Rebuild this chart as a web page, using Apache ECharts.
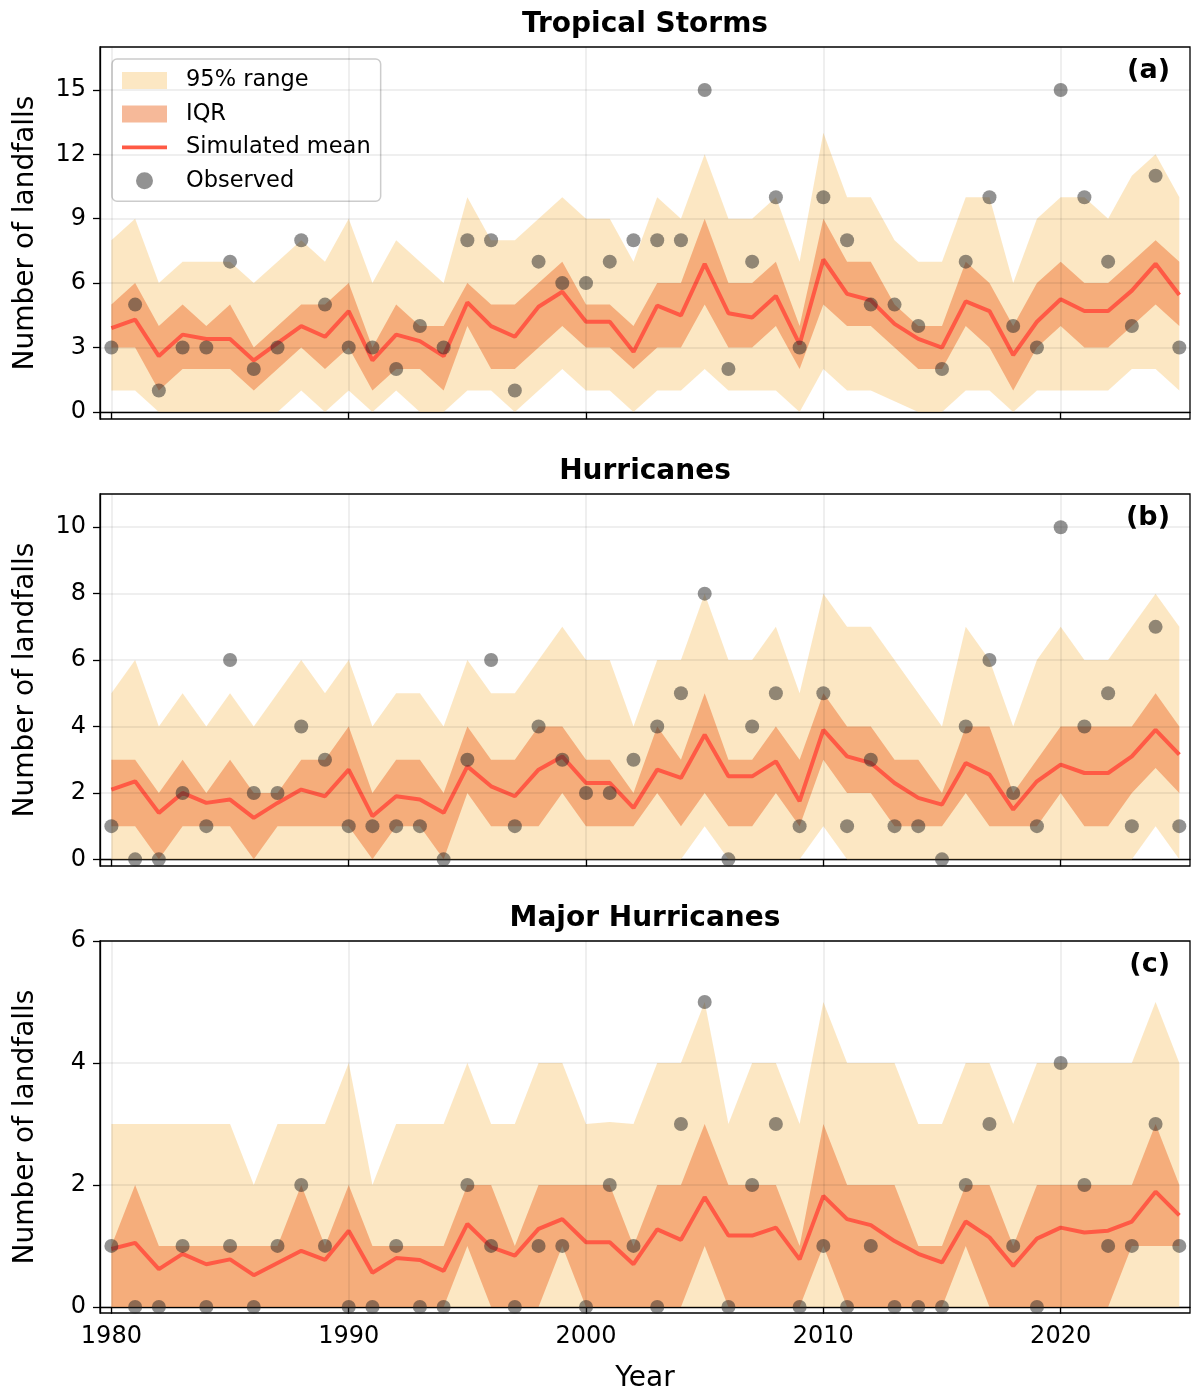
<!DOCTYPE html>
<html>
<head>
<meta charset="utf-8">
<script src="https://cdn.jsdelivr.net/npm/echarts@6.0.0/dist/echarts.min.js"></script>
<style>
html,body{margin:0;padding:0;background:#fff;}
#chart{width:1192px;height:1390px;}
</style>
</head>
<body>
<div id="chart"></div>
<script>
// ---------- DATA ----------
const years = [1980,1981,1982,1983,1984,1985,1986,1987,1988,1989,1990,1991,1992,1993,1994,1995,1996,1997,1998,1999,2000,2001,2002,2003,2004,2005,2006,2007,2008,2009,2010,2011,2012,2013,2014,2015,2016,2017,2018,2019,2020,2021,2022,2023,2024,2025];
const xTicks = [1980,1990,2000,2010,2020];

// (a) Tropical Storms
const tsTicks = [0,3,6,9,12,15];
const tsRangeHigh = [8,9,6,7,7,7,6,7,8,7,9,6,8,7,6,10,8,8,9,10,9,9,7,10,9,12,9,9,10,7,13,10,10,8,7,7,10,10,6,9,10,10,9,11,12,10];
const tsRangeLow  = [1,1,0,0,0,0,0,0,1,0,1,0,1,0,0,1,1,0,1,2,1,1,0,1,1,2,1,1,1,0,2,1,1,0.5,0,0,1,1,0,1,1,1,1,2,2,1];
const tsIqrHigh   = [5,6,4,5,4,5,3,4,5,5,6,3,5,4,4,6,5,5,6,7,5,5,4,6,6,9,6,6,7,4,9,7,7,5,4,4,7,6,4,6,7,6,6,7,8,7];
const tsIqrLow    = [3,3,1,2,2,2,1,2,3,2,3,1,2,2,1,4,2,2,3,4,3,3,2,3,3,5,3,3,4,2,5,4,4,3,2,2,4,3,1,3,4,3,3,4,5,4];
const tsMean      = [3.9,4.3,2.6,3.6,3.4,3.4,2.4,3.2,4.0,3.5,4.7,2.4,3.6,3.3,2.6,5.1,4.0,3.5,4.9,5.6,4.2,4.2,2.8,4.95,4.5,6.9,4.6,4.4,5.4,3.15,7.1,5.5,5.2,4.1,3.4,3.0,5.15,4.7,2.65,4.2,5.25,4.7,4.7,5.65,6.9,5.45];
const tsObserved  = [3,5,1,3,3,7,2,3,8,5,3,3,2,4,3,8,8,1,7,6,6,7,8,8,8,15,2,7,10,3,10,8,5,5,4,2,7,10,4,3,15,10,7,4,11,3];

// (b) Hurricanes
const huTicks = [0,2,4,6,8,10];
const huRangeHigh = [5,6,4,5,4,5,4,5,6,5,6,4,5,5,4,6,5,5,6,7,6,6,4,6,6,8,6,6,7,5,8,7,7,6,5,4,7,6,4,6,7,6,6,7,8,7];
const huRangeLow  = [0,0,0,0,0,0,0,0,0,0,0,0,0,0,0,0,0,0,0,0,0,0,0,0,0,1,0,0,0,0,1,0,0,0,0,0,0,0,0,0,0,0,0,0,1,0];
const huIqrHigh   = [3,3,2,3,2,3,2,2,3,3,4,2,3,3,2,4,3,3,4,4,3,3,2,4,3,5,3,3,4,3,5,4,4,3,3,2,4,4,2,3,4,4,4,4,5,4];
const huIqrLow    = [1,1,0,1,1,1,0,1,1,1,1,0,1,1,0,2,1,1,1,2,1,1,1,2,1,2,1,1,2,1,3,2,2,1,1,1,2,1,1,1,2,1,1,2,2.75,2];
const huMean      = [2.1,2.35,1.4,2.0,1.7,1.8,1.25,1.7,2.1,1.9,2.7,1.3,1.9,1.8,1.4,2.8,2.2,1.9,2.7,3.1,2.3,2.3,1.55,2.7,2.45,3.75,2.5,2.5,2.95,1.75,3.9,3.1,2.9,2.3,1.85,1.65,2.9,2.55,1.5,2.35,2.85,2.6,2.6,3.1,3.9,3.15];
const huObserved  = [1,0,0,2,1,6,2,2,4,3,1,1,1,1,0,3,6,1,4,3,2,2,3,4,5,8,0,4,5,1,5,1,3,1,1,0,4,6,2,1,10,4,5,1,7,1];

// (c) Major Hurricanes
const mhTicks = [0,2,4,6];
const mhRangeHigh = [3,3,3,3,3,3,2,3,3,3,4,2,3,3,3,4,3,3,4,4,3,3.03,3,4,4,5,3,4,4,3,5,4,4,4,3,3,4,4,3,4,4,4,4,4,5,4];
const mhRangeLow  = [0,0,0,0,0,0,0,0,0,0,0,0,0,0,0,0,0,0,0,0,0,0,0,0,0,0,0,0,0,0,0,0,0,0,0,0,0,0,0,0,0,0,0,0,0,0];
const mhIqrHigh   = [1,2,1,1,1,1,1,1,2,1,2,1,1,1,1,2,2,1,2,2,2,2,1,2,2,3,2,2,2,1,3,2,2,2,1,1,2,2,1,2,2,2,2,2,3,2];
const mhIqrLow    = [0,0,0,0,0,0,0,0,0,0,0,0,0,0,0,1,0,0,0,1,0,0,0,0,0,1,0,0,0,0,1,0,0,0,0,0,1,0,0,0,0,0,0,1,1,1];
const mhMean      = [0.95,1.05,0.62,0.87,0.7,0.78,0.52,0.72,0.92,0.77,1.25,0.56,0.8,0.77,0.59,1.36,0.98,0.84,1.28,1.44,1.06,1.06,0.7,1.27,1.1,1.8,1.17,1.17,1.3,0.78,1.82,1.44,1.34,1.08,0.87,0.73,1.4,1.14,0.67,1.12,1.3,1.22,1.25,1.4,1.89,1.5];
const mhObserved  = [1,0,0,1,0,1,0,1,2,1,0,0,1,0,0,2,1,0,1,1,0,2,1,0,3,5,0,2,3,0,1,0,1,0,0,0,2,3,1,0,4,2,1,1,3,1];

// ---------- STYLE / LAYOUT ----------
const FONT = 'DejaVu Sans';
const C_RANGE = 'rgba(249,208,135,0.5)';
const C_IQR = 'rgba(238,115,52,0.5)';
const C_MEAN = '#FF5A45';
const C_OBS = 'rgba(40,40,40,0.63)';
const C_GRID = 'rgba(0,0,0,0.085)';

const panels = [
  {title:'Tropical Storms', tag:'(a)', top:47, yMin:-0.33, yMax:17, ticks:tsTicks,
   hi95:tsRangeHigh, lo95:tsRangeLow, hiIqr:tsIqrHigh, loIqr:tsIqrLow, mean:tsMean, obs:tsObserved},
  {title:'Hurricanes', tag:'(b)', top:494, yMin:-0.2, yMax:11, ticks:huTicks,
   hi95:huRangeHigh, lo95:huRangeLow, hiIqr:huIqrHigh, loIqr:huIqrLow, mean:huMean, obs:huObserved},
  {title:'Major Hurricanes', tag:'(c)', top:941, yMin:-0.1, yMax:6, ticks:mhTicks,
   hi95:mhRangeHigh, lo95:mhRangeLow, hiIqr:mhIqrHigh, loIqr:mhIqrLow, mean:mhMean, obs:mhObserved}
];
const PANEL_H = 372;

const pairs = arr => years.map((y,k)=>[y, arr[k]]);

// band drawn as one polygon through the axis scales (api.coord)
function bandSeries(name, i, lo, hi, color, z) {
  return {
    type:'custom', name:name, xAxisIndex:i, yAxisIndex:i, z:z, silent:true, animation:false,
    itemStyle:{color:color},
    data: years.map((y,k)=>[y, lo[k], hi[k]]),
    encode:{x:0, y:[1,2]},
    renderItem: function(params, api) {
      if (params.dataIndex !== 0) return null;
      const top = years.map((y,k)=>api.coord([y, hi[k]]));
      const bot = years.map((y,k)=>api.coord([y, lo[k]])).reverse();
      return {type:'polygon', shape:{points: top.concat(bot)}, style:{fill:color, stroke:null}};
    }
  };
}

const grids = [], xAxes = [], yAxes = [], series = [], titles = [];

panels.forEach((p, i) => {
  const last = i === panels.length - 1;
  grids.push({left:100, width:1090, top:p.top, height:PANEL_H, show:true,
    containLabel:false, outerBoundsMode:'none',
    borderColor:'#000', borderWidth:1.3, backgroundColor:'transparent'});
  xAxes.push({
    type:'value', gridIndex:i, min:1979.52, max:2025.45,
    axisLine:{show:true, lineStyle:{color:'#000', width:1.3}},
    axisTick:{show:true, customValues:xTicks, length:7, lineStyle:{color:'#000', width:1.3}},
    axisLabel:{show:last, customValues:xTicks, fontSize:24, color:'#000', fontFamily:FONT, margin:12,
      formatter: v => String(v)},
    splitLine:{show:false},
    name: last ? 'Year' : '', nameLocation:'middle', nameGap:52, nameMoveOverlap:false,
    nameTextStyle:{fontSize:28, color:'#000', fontFamily:FONT}
  });
  yAxes.push({
    type:'value', gridIndex:i, min:p.yMin, max:p.yMax,
    axisLine:{show:true, lineStyle:{color:'#000', width:1.3}},
    axisTick:{show:true, customValues:p.ticks, length:7, lineStyle:{color:'#000', width:1.3}},
    axisLabel:{customValues:p.ticks, fontSize:24, color:'#000', fontFamily:FONT, margin:14,
      formatter: v => String(v)},
    splitLine:{show:false},
    name:'Number of landfalls', nameLocation:'middle', nameGap:60, nameMoveOverlap:false,
    nameTextStyle:{fontSize:28, color:'#000', fontFamily:FONT}
  });
  titles.push({text:p.title, left:645, top:p.top-38, textAlign:'center', padding:0,
    textStyle:{fontSize:28, fontWeight:'bold', color:'#000', fontFamily:FONT, lineHeight:32}});
  titles.push({text:p.tag, right:22, top:p.top+8, padding:0,
    textStyle:{fontSize:27, fontWeight:'bold', color:'#000', fontFamily:FONT, lineHeight:32}});

  series.push(bandSeries('95% range', i, p.lo95, p.hi95, C_RANGE, 1));
  series.push(bandSeries('IQR', i, p.loIqr, p.hiIqr, C_IQR, 2));
  // grid lines
  series.push({type:'line', name:'_grid_'+i, xAxisIndex:i, yAxisIndex:i, data:[], z:3, silent:true,
    symbol:'none', animation:false,
    markLine:{silent:true, symbol:['none','none'], label:{show:false}, animation:false,
      lineStyle:{color:C_GRID, width:1.5, type:'solid'},
      emphasis:{disabled:true},
      data:[...xTicks.map(v=>({xAxis:v})), ...p.ticks.map(v=>({yAxis:v}))]}});
  // mean
  series.push({type:'line', name:'Simulated mean', xAxisIndex:i, yAxisIndex:i, data:pairs(p.mean),
    symbol:'none', showSymbol:false, animation:false,
    lineStyle:{color:C_MEAN, width:4}, itemStyle:{color:C_MEAN}, z:4});
  // observed
  series.push({type:'scatter', name:'Observed', xAxisIndex:i, yAxisIndex:i, data:pairs(p.obs),
    symbol:'circle', symbolSize:14, itemStyle:{color:C_OBS}, z:5, animation:false});
});

const option = {
  animation:false,
  backgroundColor:'#fff',
  textStyle:{fontFamily:FONT},
  title:titles,
  grid:grids,
  xAxis:xAxes,
  yAxis:yAxes,
  legend:{
    left:112, top:59, orient:'vertical',
    padding:[10,10,9,10], itemWidth:45, itemHeight:17, itemGap:10.4,
    backgroundColor:'rgba(255,255,255,0.85)', borderColor:'#cccccc', borderWidth:1.5, borderRadius:5,
    selectedMode:false,
    textStyle:{fontSize:22.5, color:'#000', fontFamily:FONT, lineHeight:20, padding:[0,0,0,14]},
    data:[
      {name:'95% range', icon:'rect', itemStyle:{color:C_RANGE, borderWidth:0}},
      {name:'IQR', icon:'rect', itemStyle:{color:C_IQR, borderWidth:0}},
      {name:'Simulated mean', icon:'path://M0,0H40V3.4H0Z', itemStyle:{color:C_MEAN, borderWidth:0}},
      {name:'Observed', icon:'circle', itemStyle:{color:C_OBS, borderWidth:0}}
    ]
  },
  series:series
};

const chart = echarts.init(document.getElementById('chart'), null, {renderer:'canvas'});
chart.setOption(option);
</script>
</body>
</html>
